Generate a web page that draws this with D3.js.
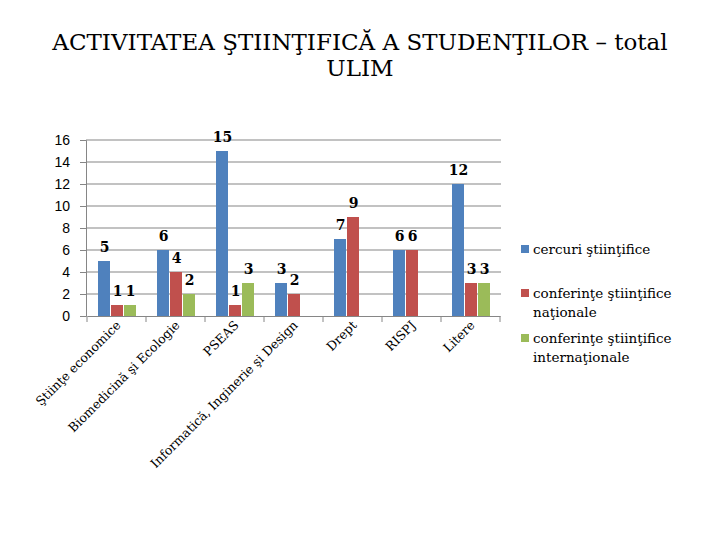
<!DOCTYPE html>
<html><head><meta charset="utf-8">
<script src="https://cdn.jsdelivr.net/npm/d3@7"></script>
<style>body{margin:0;background:#fff} .serif{font-family:'DejaVu Serif',serif}</style>
</head><body>
<svg id="c" width="720" height="540"></svg>
<script>
const categories = ["Ştiinţe economice","Biomedicină şi Ecologie","PSEAS","Informatică, Inginerie şi Design","Drept","RISPJ","Litere"];
const seriesNames = ["cercuri ştiinţifice","conferinţe ştiinţifice naţionale","conferinţe ştiinţifice internaţionale"];
const cercuri = [5,6,15,3,7,6,12];
const confNationale = [1,4,1,2,9,6,3];
const confInternationale = [1,2,3,null,null,null,3];
const yTicks = [0,2,4,6,8,10,12,14,16];
const colors = ["#4F81BD","#C0504D","#9BBB59"];
const series = [cercuri, confNationale, confInternationale];

const svg = d3.select("#c");
const x = d3.scaleBand().domain(categories).range([87,500]).paddingInner(0).paddingOuter(0);
const y = d3.scaleLinear().domain([0,16]).range([316,140]);
const inner = d3.scaleBand().domain([0,1,2]).range([11, 11+39]);

// title
svg.append("text").attr("class","serif").attr("x",360).attr("y",50).attr("text-anchor","middle")
  .attr("font-size",23).attr("fill","#000")
  .text("ACTIVITATEA ŞTIINŢIFICĂ A STUDENŢILOR – total");
svg.append("text").attr("class","serif").attr("x",360).attr("y",76).attr("text-anchor","middle")
  .attr("font-size",23).attr("fill","#000")
  .text("ULIM");

// grid
svg.append("g").selectAll("line").data(yTicks.filter(d=>d>0)).join("line")
  .attr("x1",86).attr("x2",501).attr("y1",d=>y(d)).attr("y2",d=>y(d))
  .attr("stroke","#868686").attr("stroke-width",1.2);

// y axis
const ya = svg.append("g").attr("transform","translate(86,0)")
  .call(d3.axisLeft(y).tickValues(yTicks).tickSize(6).tickPadding(10));
ya.select(".domain").attr("stroke","#868686");
ya.selectAll(".tick line").attr("stroke","#868686");
ya.selectAll("text").attr("font-family","'Liberation Sans', Arial, sans-serif").attr("font-size",14).attr("fill","#000");

// bars
const g = svg.append("g");
series.forEach((vals,si)=>{
  vals.forEach((v,ci)=>{
    if(v==null) return;
    const bx = x(categories[ci]) + inner(si);
    g.append("rect").attr("x",bx).attr("y",y(v)).attr("width",inner.bandwidth()-1)
      .attr("height",y(0)-y(v)).attr("fill",colors[si]);
    g.append("text").attr("class","serif").attr("x",bx+inner.bandwidth()/2).attr("y",y(v)-9)
      .attr("text-anchor","middle")
      .attr("font-size",14).attr("font-weight","bold").attr("fill","#000").text(v);
  });
});

// x axis
const xa = svg.append("g").attr("transform","translate(0,316)")
  .call(d3.axisBottom(x).tickSize(0).tickFormat(""));
xa.select(".domain").attr("stroke","#868686").attr("stroke-width",1.2);
const tickXs = categories.map(c=>x(c)).concat([500]);
svg.append("g").selectAll("line").data(tickXs).join("line")
  .attr("x1",d=>d).attr("x2",d=>d).attr("y1",316).attr("y2",322).attr("stroke","#868686");
svg.append("g").selectAll("text").data(categories).join("text").attr("class","serif")
  .attr("transform",d=>`translate(${x(d)+x.bandwidth()/2+5},${326}) rotate(-45)`)
  .attr("text-anchor","end").attr("font-size",12.5)
  .attr("fill","#000").text(d=>d);

// legend
const legendLines = [["cercuri ştiinţifice"],["conferinţe ştiinţifice","naţionale"],["conferinţe ştiinţifice","internaţionale"]];
const legY = [254,298,343];
legendLines.forEach((lines,i)=>{
  svg.append("rect").attr("x",521).attr("y",legY[i]-9).attr("width",8).attr("height",8).attr("fill",colors[i]);
  lines.forEach((t,j)=>{
    svg.append("text").attr("class","serif").attr("x",533).attr("y",legY[i]+j*19)
      .attr("font-size",13.5).attr("fill","#000").text(t);
  });
});
</script>
</body></html>
